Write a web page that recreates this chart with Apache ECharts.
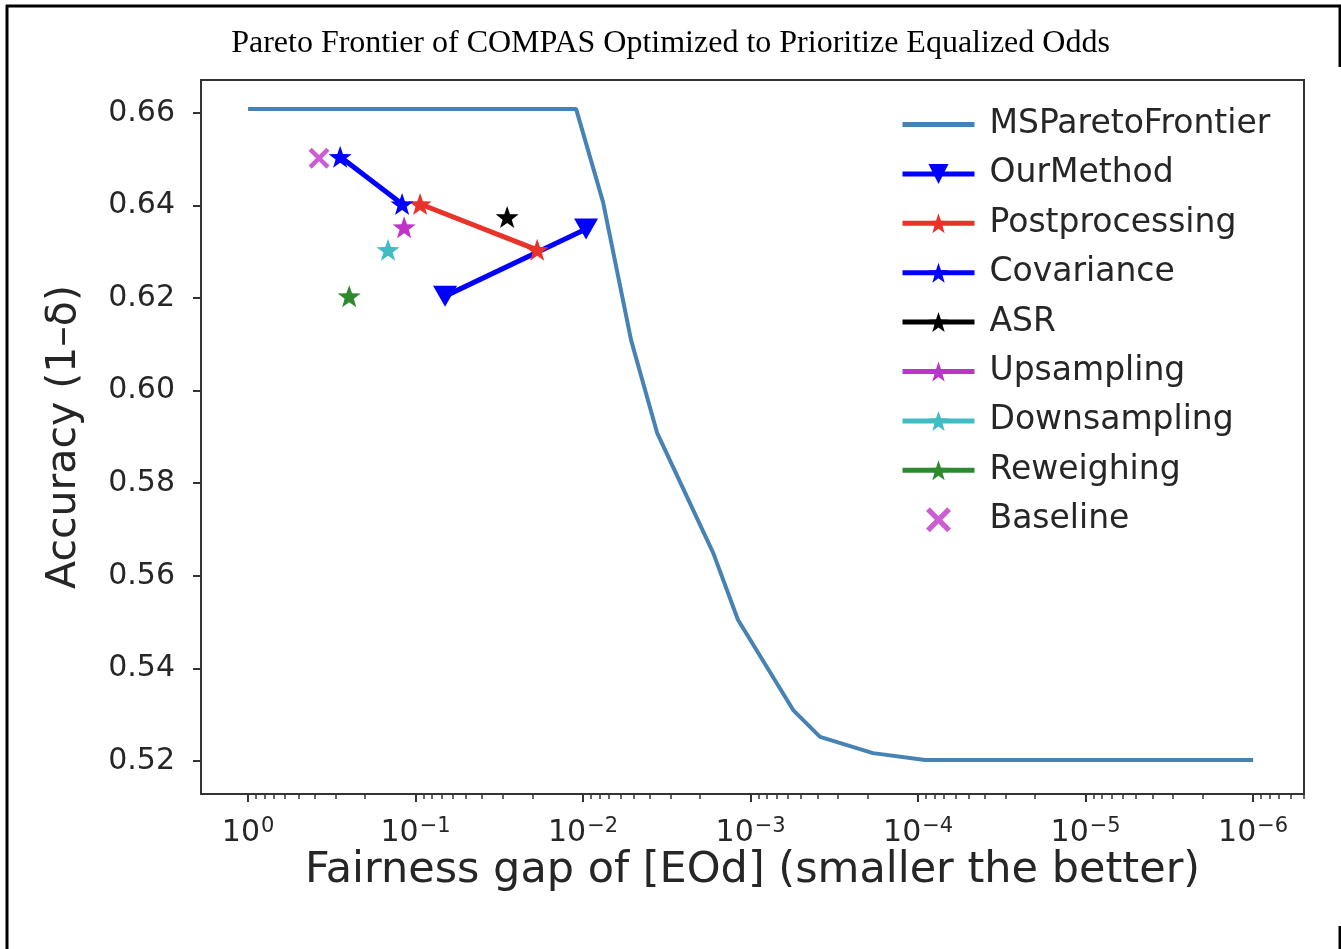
<!DOCTYPE html>
<html><head><meta charset="utf-8">
<script src="https://cdn.jsdelivr.net/npm/echarts@6/dist/echarts.min.js"></script>
<style>html,body{margin:0;padding:0;background:#fff}#c{width:1341px;height:949px}</style>
</head><body><div id="c"></div>
<script>
// ---- data ----
const frontierX = [1.0, 0.0110, 0.0076, 0.00517, 0.00361, 0.00167, 0.00119, 0.000557, 0.000385, 0.000186, 0.0000908, 0.000001];
const frontierY = [0.6608, 0.6608, 0.6407, 0.6109, 0.5908, 0.5649, 0.5505, 0.5310, 0.5252, 0.5217, 0.5202, 0.5202];
const ourMethodX = [0.0667, 0.0096];
const ourMethodY = [0.6204, 0.6349];
const postprocX = [0.094, 0.0188];
const postprocY = [0.6403, 0.6304];
const covarianceX = [0.282, 0.1204];
const covarianceY = [0.6505, 0.6403];
const asrX = [0.0284];
const asrY = [0.6375];
const upsamplingX = [0.117];
const upsamplingY = [0.6353];
const downsamplingX = [0.146];
const downsamplingY = [0.6304];
const reweighingX = [0.249];
const reweighingY = [0.6204];
const baselineX = [0.377];
const baselineY = [0.6502];
const yTicks = [0.52, 0.54, 0.56, 0.58, 0.60, 0.62, 0.64, 0.66];
const xTicks = [1, 1e-1, 1e-2, 1e-3, 1e-4, 1e-5, 1e-6];
const xTickExps = ['0', '\u22121', '\u22122', '\u22123', '\u22124', '\u22125', '\u22126'];
const names = ['MSParetoFrontier', 'OurMethod', 'Postprocessing', 'Covariance', 'ASR', 'Upsampling', 'Downsampling', 'Reweighing', 'Baseline'];
const titleText = 'Pareto Frontier of COMPAS Optimized to Prioritize Equalized Odds';
const xName = 'Fairness gap of [EOd] (smaller the better)';
const yName = 'Accuracy (1\u2013\u03b4)';

// minor ticks (2..9 x 10^e)
const xMinor = [];
for (let e = 0; e >= -7; e--) for (let k = 2; k <= 9; k++) xMinor.push(k * Math.pow(10, e));

const pair = (xs, ys) => xs.map((x, i) => [x, ys[i]]);
const STAR = 'path://M0,-10 L2.35,-3.24 L9.51,-3.09 L3.8,1.24 L5.88,8.09 L0,4 L-5.88,8.09 L-3.8,1.24 L-9.51,-3.09 L-2.35,-3.24 Z';
const TRI = 'path://M0,0 L10,0 L5,9 Z';
const XMARK = 'path://M-5,-3.5 L-3.5,-5 L0,-1.5 L3.5,-5 L5,-3.5 L1.5,0 L5,3.5 L3.5,5 L0,1.5 L-3.5,5 L-5,3.5 L-1.5,0 Z';

const XMIN = 4.97e-7, XMAX = 1.91, YMIN = 0.51287, YMAX = 0.66708;
const FONT = 'DejaVu Sans';
const TXT = '#262626';

function starSeries(name, xs, ys, color) {
  return { name, type: 'line', data: pair(xs, ys), symbol: STAR, symbolSize: [23, 22],
    lineStyle: { color, width: 5 }, itemStyle: { color }, z: 3 };
}

const chart = echarts.init(document.getElementById('c'), null, { renderer: 'canvas' });
chart.setOption({
  backgroundColor: '#fff',
  animation: false,
  title: { text: titleText, left: 'center', top: 23,
    textStyle: { fontFamily: 'Liberation Serif', fontSize: 32, fontWeight: 'normal', color: '#000' } },
  grid: { left: 201, right: 37, top: 80, bottom: 155, show: true, borderColor: '#333', borderWidth: 2, backgroundColor: '#fff' },
  legend: {
    orient: 'vertical', left: 895, top: 103, itemWidth: 72, itemHeight: 25, itemGap: 16.4,
    data: names,
    lineStyle: { width: 5 },
    textStyle: { fontFamily: FONT, fontSize: 33, color: TXT, padding: [0, 0, 0, 10] },
    selectedMode: false
  },
  xAxis: [
    { type: 'log', logBase: 10, min: XMIN, max: XMAX, inverse: true, gridIndex: 0, position: 'bottom',
      axisLine: { show: false }, splitLine: { show: false },
      axisTick: { show: true, length: 8, inside: false, customValues: xTicks, lineStyle: { color: '#333', width: 2 } },
      axisLabel: { show: true, margin: 22, customValues: xTicks,
        formatter: v => { const e = Math.round(Math.log10(v)); return '{b|10}{s|' + xTickExps[-e] + '}'; },
        rich: { b: { fontFamily: FONT, fontSize: 30, color: TXT },
                s: { fontFamily: FONT, fontSize: 21, color: TXT, verticalAlign: 'top', padding: [0, 0, 14, 1] } } },
      name: xName, nameLocation: 'middle', nameGap: 55, nameMoveOverlap: false,
      nameTextStyle: { fontFamily: FONT, fontSize: 43, color: TXT } },
    { type: 'log', logBase: 10, min: XMIN, max: XMAX, inverse: true, gridIndex: 0, position: 'bottom',
      axisLine: { show: false }, splitLine: { show: false },
      axisTick: { show: true, length: 5, inside: false, customValues: xMinor, lineStyle: { color: '#333', width: 1.5 } },
      axisLabel: { show: false } }
  ],
  yAxis: {
    type: 'value', min: YMIN, max: YMAX,
    axisLine: { show: false }, splitLine: { show: false },
    axisTick: { show: true, length: 8, inside: false, customValues: yTicks, lineStyle: { color: '#333', width: 2 } },
    axisLabel: { customValues: yTicks, margin: 26, fontFamily: FONT, fontSize: 30, color: TXT,
      formatter: v => v.toFixed(2) },
    name: yName, nameLocation: 'middle', nameRotate: 90, nameGap: 116, nameMoveOverlap: false,
    nameTextStyle: { fontFamily: FONT, fontSize: 41, color: TXT }
  },
  series: [
    { name: names[0], type: 'line', data: pair(frontierX, frontierY), symbol: 'none',
      lineStyle: { color: '#4682b4', width: 4 }, itemStyle: { color: 'rgba(0,0,0,0)' }, z: 2 },
    { name: names[1], type: 'line', data: pair(ourMethodX, ourMethodY), symbol: TRI, symbolSize: [24, 21],
      lineStyle: { color: '#0000ff', width: 5 }, itemStyle: { color: '#0000ff' }, z: 3 },
    starSeries(names[2], postprocX, postprocY, '#e8322a'),
    starSeries(names[3], covarianceX, covarianceY, '#0000ff'),
    starSeries(names[4], asrX, asrY, '#000000'),
    starSeries(names[5], upsamplingX, upsamplingY, '#bf33c8'),
    starSeries(names[6], downsamplingX, downsamplingY, '#40bcc4'),
    starSeries(names[7], reweighingX, reweighingY, '#2e8a2e'),
    { name: names[8], type: 'scatter', data: pair(baselineX, baselineY), symbol: XMARK, symbolSize: 21,
      symbolKeepAspect: true, itemStyle: { color: '#bf33c8' }, z: 4 }
  ],
  graphic: [
    { type: 'line', shape: { x1: 7, y1: 5, x2: 7, y2: 949 }, style: { stroke: '#000', lineWidth: 3 } },
    { type: 'line', shape: { x1: 6, y1: 6, x2: 1341, y2: 6 }, style: { stroke: '#000', lineWidth: 3 } },
    { type: 'line', shape: { x1: 1340, y1: 5, x2: 1340, y2: 67 }, style: { stroke: '#000', lineWidth: 3 } },
    { type: 'line', shape: { x1: 1340, y1: 926, x2: 1340, y2: 949 }, style: { stroke: '#000', lineWidth: 3 } }
  ]
});
</script></body></html>
